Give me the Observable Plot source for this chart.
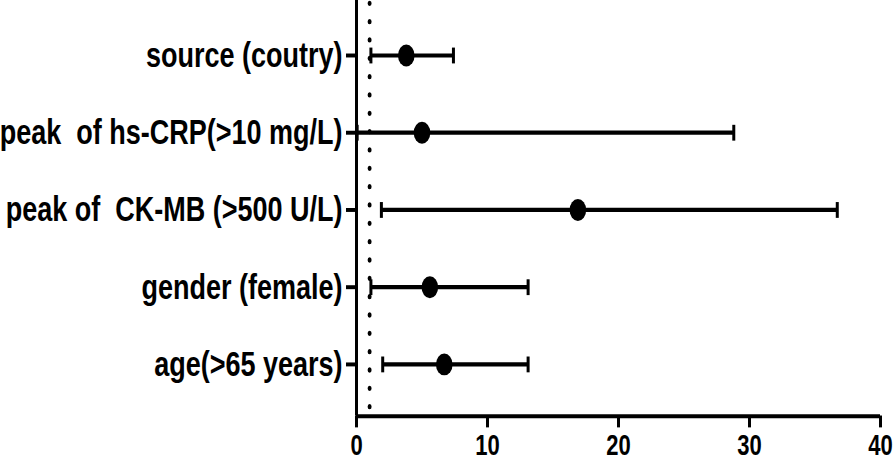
<!DOCTYPE html>
<html>
<head>
<meta charset="utf-8">
<script src="https://cdn.jsdelivr.net/npm/d3@7"></script>
<script src="https://cdn.jsdelivr.net/npm/@observablehq/plot@0.6"></script>
<style>
  html, body { margin: 0; padding: 0; background: #fff; }
  #chart { width: 896px; height: 463px; overflow: visible; }
  #chart svg { display: block; transform-origin: 0 0; }
  #chart svg text { white-space: pre; }
</style>
</head>
<body>
<div id="chart"></div>
<script>
// Data (odds ratios with 95% CI)
const categories = [
  "source (coutry)",
  "peak  of hs-CRP(>10 mg/L)",
  "peak of  CK-MB (>500 U/L)",
  "gender (female)",
  "age(>65 years)"
];
const estimates = [3.8, 5.0, 16.9, 5.6, 6.7];
const lowerCI   = [1.1, 0.05, 1.9, 1.1, 2.0];
const upperCI   = [7.4, 28.8, 36.7, 13.1, 13.1];
const xTicks    = [0, 10, 20, 30, 40];
const referenceLine = [1];

const rows = categories.map((name, i) => ({
  name,
  y: categories.length - i,
  est: estimates[i],
  lo: lowerCI[i],
  hi: upperCI[i]
}));
const yTicks = rows.map(d => d.y);
const labelOf = new Map(rows.map(d => [d.y, d.name]));

const W = 896, H = 351, STRETCH = 463 / 351;
const yDomain = [0.33, 5.71];

const capSymbol = {
  draw(ctx) { ctx.moveTo(0, -6); ctx.lineTo(0, 6); }
};

const chart = Plot.plot({
  width: W,
  height: H,
  marginLeft: 356,
  marginRight: 16,
  marginTop: 0,
  marginBottom: 36,
  style: { fontFamily: "'Liberation Sans', Arial, sans-serif", fontWeight: "bold", color: "#000", background: "#fff", overflow: "visible" },
  x: { domain: [0, 40], label: null },
  y: { domain: yDomain, label: null },
  marks: [
    Plot.ruleX(referenceLine, { stroke: "#000", strokeWidth: 4, strokeLinecap: "round", strokeDasharray: "0 13.9", strokeDashoffset: -2.5 }),
    Plot.ruleY(rows, { y: "y", x1: "lo", x2: "hi", stroke: "#000", strokeWidth: 3.2 }),
    Plot.dot(rows, { x: "lo", y: "y", symbol: capSymbol, stroke: "#000", fill: "none", strokeWidth: 3 }),
    Plot.dot(rows, { x: "hi", y: "y", symbol: capSymbol, stroke: "#000", fill: "none", strokeWidth: 3 }),
    Plot.dot(rows, { x: "est", y: "y", r: 8.3, fill: "#000", stroke: "none" }),
    Plot.ruleX([0], { stroke: "#000", strokeWidth: 3 }),
    Plot.ruleY([yDomain[0]], { stroke: "#000", strokeWidth: 3 }),
    Plot.axisX({ ticks: xTicks, label: null, tickSize: 9, tickPadding: 5, fontSize: 22, fontWeight: "bold", strokeWidth: 3, tickFormat: d => String(d) }),
    Plot.axisY({ ticks: yTicks, label: null, tickSize: 10, tickPadding: 4, fontSize: 27, fontWeight: "bold", strokeWidth: 3, tickFormat: d => labelOf.get(d) || "" })
  ]
});
chart.style.transform = `scaleY(${STRETCH})`;
document.getElementById("chart").appendChild(chart);
</script>
</body>
</html>
